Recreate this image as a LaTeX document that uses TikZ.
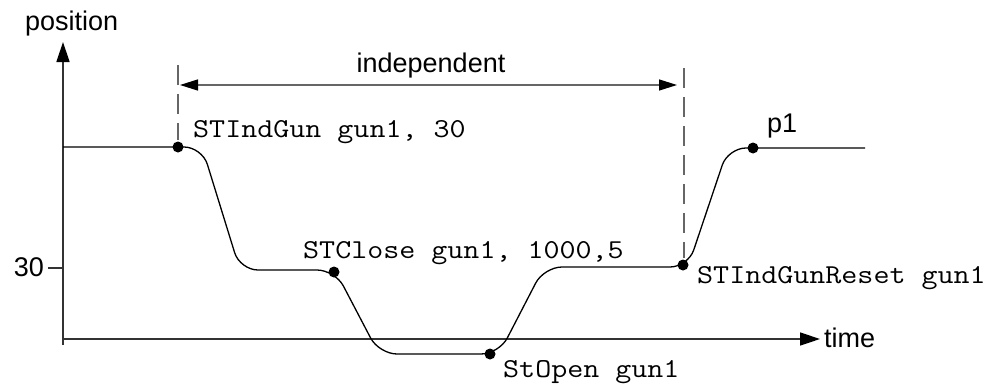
\documentclass[tikz,border=0pt]{standalone}
\usepackage{fontspec}
\setsansfont{Liberation Sans}
\setmonofont{Latin Modern Mono}[FakeStretch=1.14]
\usetikzlibrary{arrows.meta}
\tikzset{
  axis/.style={draw=black!80, line width=1.4pt},
  axisarrow/.style={-{Triangle[length=20pt,width=13pt,color=black]}},
  dimline/.style={draw=black!60, line width=1.4pt, {Triangle[length=18pt,width=11pt,color=black]}-{Triangle[length=18pt,width=11pt,color=black]}},
  guide/.style={draw=black!60, line width=1.4pt, dash pattern=on 20pt off 9pt},
  curve/.style={draw=black, line width=1.3pt, rounded corners=18pt},
  pt/.style={circle, fill=black, inner sep=0pt, minimum size=11pt},
  sanslabel/.style={font=\sffamily\fontsize{27}{32}\selectfont, inner sep=0pt},
  monolabel/.style={font=\ttfamily\fontsize{27.3}{32}\selectfont, inner sep=0pt, anchor=base west},
}
\begin{document}
\begin{tikzpicture}[x=1pt,y=-1pt]
\useasboundingbox (0,0) rectangle (1006,383);
% axes
\coordinate (o) at (63,345);
\coordinate (ytop) at (63,42);
\coordinate (x0) at (63,339);
\coordinate (xend) at (820,339);
\draw[axis,axisarrow] (o) -- (ytop);
\draw[axis,axisarrow] (x0) -- (xend);
\coordinate (tick) at (48,268);
\draw[axis] (tick) -- (63,268);
\node[sanslabel, anchor=base west] (ylab) at (25,30) {position};
\node[sanslabel, anchor=base west] (xlab) at (824,347) {time};
\node[sanslabel, anchor=base east] (thirty) at (44,276) {30};
% curve
\draw[curve] (63,147) -- (202,147) -- (240,270) -- (335,270) -- (379,354) -- (499,354) -- (544,267) -- (688,267) -- (728,148) -- (865,148);
% points
\node[pt] (p0) at (178,147) {};
\node[pt] (p1) at (334,272) {};
\node[pt] (p2) at (490,354) {};
\node[pt] (p3) at (683,265) {};
\node[pt] (p4) at (753,148) {};
% guides
\coordinate (g0top) at (178,65);
\coordinate (g1top) at (684,68);
\draw[guide] (g0top) -- (178,140);
\draw[guide] (g1top) -- (684,258);
\coordinate (da) at (180,85);
\coordinate (db) at (677,85);
\draw[dimline] (da) -- (db);
\node[sanslabel, anchor=base] (indep) at (431,72) {independent};
% labels
\node[monolabel] (l0) at (193,137) {STIndGun gun1, 30};
\node[monolabel] (l1) at (303,258) {STClose gun1, 1000,5};
\node[monolabel] (l2) at (503,377) {StOpen gun1};
\node[monolabel] (l3) at (697,283) {STIndGunReset gun1};
\node[sanslabel, anchor=base west] (lp1) at (767,132) {p1};
\end{tikzpicture}
\end{document}
